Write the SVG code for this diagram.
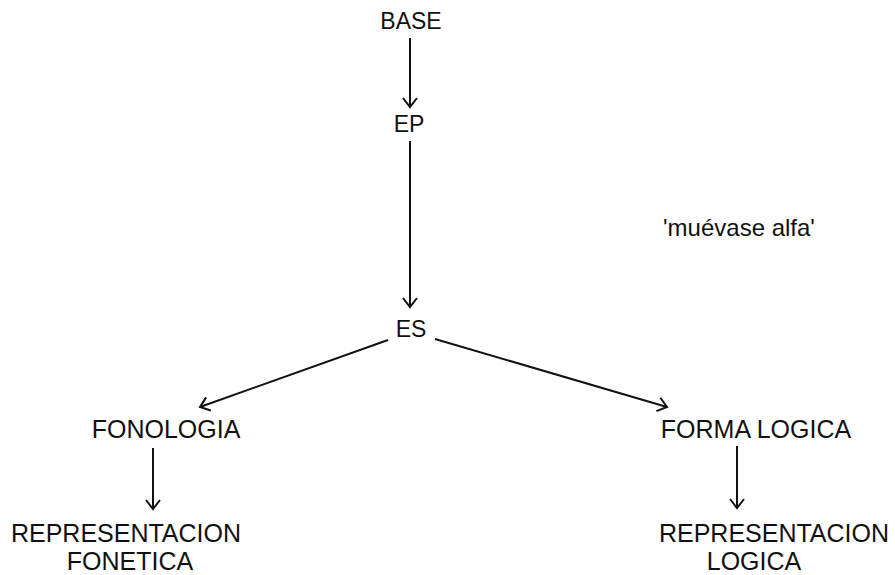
<svg xmlns="http://www.w3.org/2000/svg" width="895" height="575" viewBox="0 0 895 575">
<defs>
<style>
text{font-family:"Liberation Sans",Arial,Helvetica,sans-serif;font-size:25px;fill:#111;text-anchor:middle}
.top{font-size:23px}
.alfa{font-size:24px}
.c line{stroke:#111;stroke-width:2;fill:none}
</style>
<marker id="ah" viewBox="-12 -8 14 16" markerWidth="14" markerHeight="16" refX="0" refY="0" orient="auto" markerUnits="userSpaceOnUse">
<path d="M-9,-7 L0,0 L-9,7" fill="none" stroke="#111" stroke-width="2"/>
</marker>
</defs>
<rect width="895" height="575" fill="#fff"/>
<g id="base"><text class="top" x="411" y="29">BASE</text></g>
<g id="ep"><text class="top" x="409" y="132">EP</text></g>
<g id="es"><text class="top" x="411" y="337">ES</text></g>
<g id="alfa"><text class="alfa" x="739" y="236">'muévase alfa'</text></g>
<g id="fonologia"><text x="166" y="438">FONOLOGIA</text></g>
<g id="forma-logica"><text x="756" y="438">FORMA LOGICA</text></g>
<g id="rep-fonetica"><text x="126" y="542">REPRESENTACION</text><text x="130" y="570">FONETICA</text></g>
<g id="rep-logica"><text x="774" y="542">REPRESENTACION</text><text x="754" y="570">LOGICA</text></g>
<g id="connectors" class="c">
<line x1="410" y1="38" x2="410" y2="107" marker-end="url(#ah)"/>
<line x1="410" y1="141" x2="410" y2="307" marker-end="url(#ah)"/>
<line x1="388" y1="340" x2="200" y2="407" marker-end="url(#ah)"/>
<line x1="435" y1="339" x2="667" y2="407" marker-end="url(#ah)"/>
<line x1="153" y1="448" x2="153" y2="509" marker-end="url(#ah)"/>
<line x1="737" y1="446" x2="737" y2="508" marker-end="url(#ah)"/>
</g>
</svg>
